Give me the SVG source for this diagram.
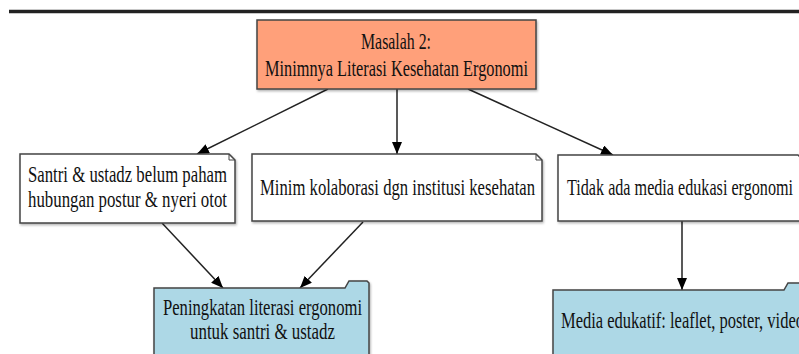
<svg xmlns="http://www.w3.org/2000/svg" width="799" height="354" viewBox="0 0 799 354">
<style>
.t{font-family:"Liberation Serif","DejaVu Serif",serif;font-size:24px;fill:#111}
.b{stroke:#444;stroke-width:1.5;filter:url(#sh)}
.e{stroke:#222;stroke-width:1.5;fill:none;marker-end:url(#ah)}
</style>
<defs>
<filter id="sh" x="-10%" y="-10%" width="120%" height="130%"><feDropShadow dx="1" dy="1.5" stdDeviation="1" flood-color="#000" flood-opacity="0.3"/></filter>
<marker id="ah" viewBox="0 0 12 10" refX="12" refY="5" markerWidth="12" markerHeight="10" markerUnits="userSpaceOnUse" orient="auto"><path d="M0,0 L12,5 L0,10 Z" fill="#000"/></marker>
</defs>
<line x1="9" y1="11.5" x2="799" y2="11.5" stroke="#222" stroke-width="3.5"/>
<g id="connectors">
<line class="e" x1="328" y1="89" x2="197" y2="154"/>
<line class="e" x1="397" y1="89" x2="397" y2="154"/>
<line class="e" x1="468" y1="89" x2="613" y2="155"/>
<line class="e" x1="162" y1="223" x2="223" y2="288"/>
<line class="e" x1="363" y1="222" x2="300" y2="288"/>
<line class="e" x1="682" y1="221" x2="682" y2="290"/>
</g>
<g id="n0">
<rect class="b" x="257" y="20" width="279" height="69" fill="#FFA07A"/>
<text class="t" x="396" y="49" text-anchor="middle" textLength="70" lengthAdjust="spacingAndGlyphs">Masalah 2:</text>
<text class="t" x="396.5" y="76" text-anchor="middle" textLength="263" lengthAdjust="spacingAndGlyphs">Minimnya Literasi Kesehatan Ergonomi</text>
</g>
<g id="n1">
<path class="b" d="M20,154 H229 L235,160 V223 H20 Z" fill="#fff"/>
<path d="M229,154 V160 H235" fill="none" stroke="#444" stroke-width="1"/>
<text class="t" x="28" y="182" textLength="199" lengthAdjust="spacingAndGlyphs">Santri &amp; ustadz belum paham</text>
<text class="t" x="28" y="207" textLength="199" lengthAdjust="spacingAndGlyphs">hubungan postur &amp; nyeri otot</text>
</g>
<g id="n2">
<path class="b" d="M252,154 H536 L542,160 V221 H252 Z" fill="#fff"/>
<path d="M536,154 V160 H542" fill="none" stroke="#444" stroke-width="1"/>
<text class="t" x="260" y="195" textLength="275" lengthAdjust="spacingAndGlyphs">Minim kolaborasi dgn institusi kesehatan</text>
</g>
<g id="n3">
<path class="b" d="M558,155 H798 L804,161 V221 H558 Z" fill="#fff"/>
<text class="t" x="567" y="195" textLength="226" lengthAdjust="spacingAndGlyphs">Tidak ada media edukasi ergonomi</text>
</g>
<g id="n4">
<path class="b" d="M154,360 V288 H345 L349,281 H367 L369,283 V360 Z" fill="#ADD8E6"/>
<text class="t" x="262.5" y="315" text-anchor="middle" textLength="199" lengthAdjust="spacingAndGlyphs">Peningkatan literasi ergonomi</text>
<text class="t" x="262.5" y="339" text-anchor="middle" textLength="145" lengthAdjust="spacingAndGlyphs">untuk santri &amp; ustadz</text>
</g>
<g id="n5">
<path class="b" d="M553,360 V290 H784 L788,283 H806 V360 Z" fill="#ADD8E6"/>
<text class="t" x="561" y="328" textLength="243" lengthAdjust="spacingAndGlyphs">Media edukatif: leaflet, poster, video</text>
</g>
</svg>
